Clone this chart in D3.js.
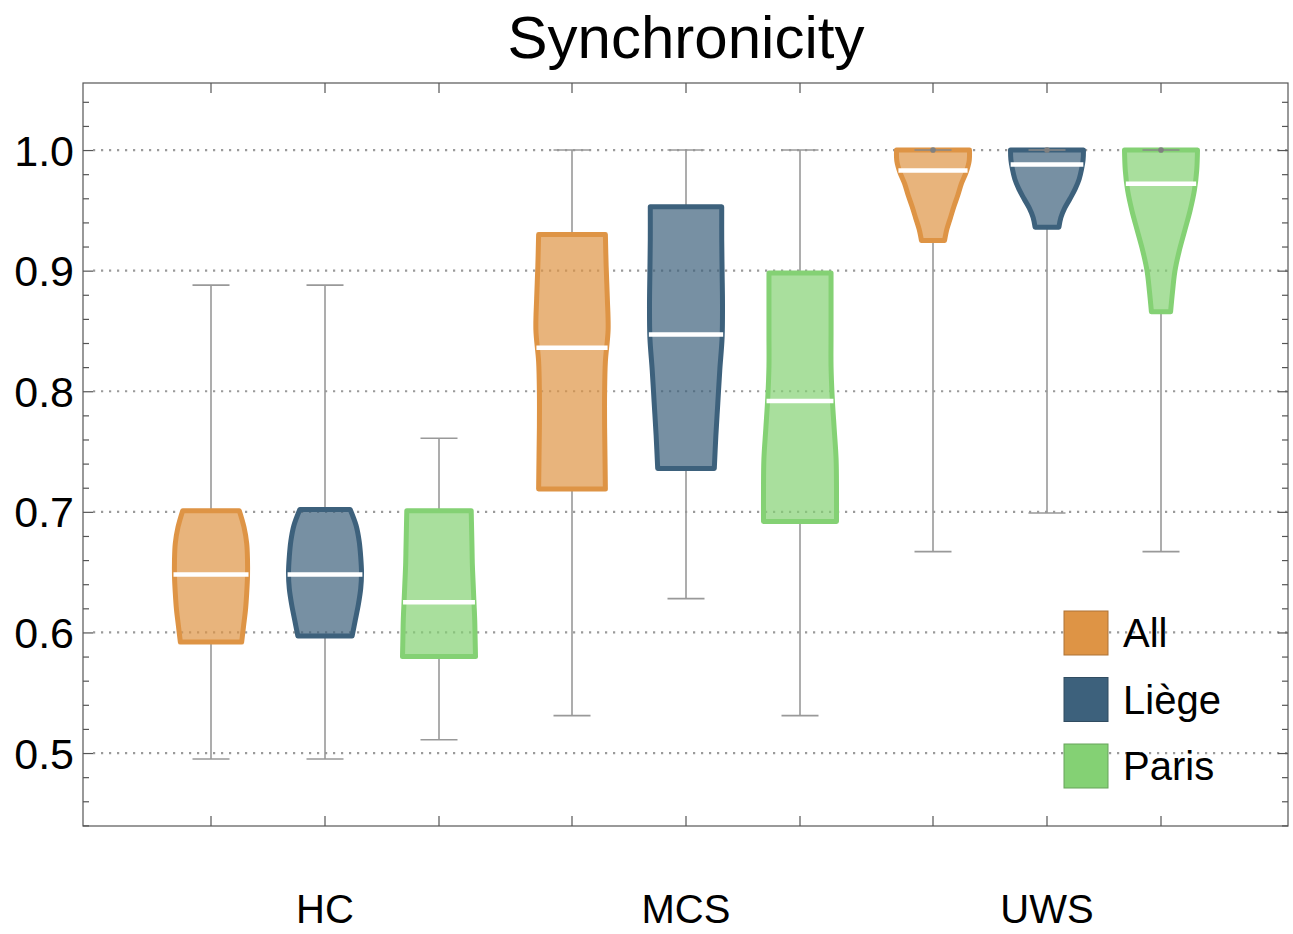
<!DOCTYPE html>
<html>
<head>
<meta charset="utf-8">
<script src="https://cdn.jsdelivr.net/npm/d3@7"></script>
<style>
body { margin: 0; background: #ffffff; }
svg { display: block; font-family: "Liberation Sans", Arial, sans-serif; }
</style>
</head>
<body>
<svg id="chart" width="1293" height="934"></svg>
<script>
var groups = ["HC", "MCS", "UWS"];
var series = ["All", "Liège", "Paris"];
var series_colors = ["#de9445", "#3d617c", "#84d174"];

// one row per group, one value per series
var whisker_lo = [[0.495, 0.495, 0.511], [0.531, 0.628, 0.531], [0.667, 0.699, 0.667]];
var quartile_1 = [[0.592, 0.597, 0.580], [0.719, 0.736, 0.692], [0.925, 0.936, 0.866]];
var medians    = [[0.648, 0.648, 0.625], [0.836, 0.847, 0.792], [0.983, 0.988, 0.972]];
var quartile_3 = [[0.701, 0.702, 0.701], [0.930, 0.953, 0.898], [1.000, 1.000, 1.000]];
var whisker_hi = [[0.888, 0.888, 0.761], [1.000, 1.000, 1.000], [1.000, 1.000, 1.000]];
var outliers   = [[[], [], []], [[], [], []], [[1.0], [1.0], [1.0]]];

// relative width of each box, from Q1 (first) up to Q3 (last)
var box_profiles = [
    [[0.85, 0.90, 0.95, 0.98, 1.00, 1.00, 0.98, 0.91, 0.79],
     [0.76, 0.84, 0.92, 0.98, 1.00, 0.98, 0.94, 0.86, 0.71],
     [1.00, 0.99, 0.98, 0.96, 0.94, 0.92, 0.91, 0.90, 0.89]],
    [[0.92, 0.91, 0.90, 0.90, 0.92, 0.99, 0.97, 0.94, 0.92],
     [0.79, 0.83, 0.88, 0.93, 0.99, 1.00, 0.99, 0.98, 0.98],
     [1.00, 1.00, 0.99, 0.94, 0.89, 0.86, 0.86, 0.86, 0.86]],
    [[0.36, 0.42, 0.51, 0.60, 0.70, 0.79, 0.91, 0.99, 1.00],
     [0.37, 0.42, 0.52, 0.66, 0.79, 0.89, 0.95, 0.99, 1.00],
     [0.31, 0.36, 0.42, 0.53, 0.67, 0.81, 0.92, 0.98, 1.00]]
];

var y_ticks = [0.5, 0.6, 0.7, 0.8, 0.9, 1.0];

var plot_left = 83, plot_right = 1288, plot_top = 83, plot_bottom = 826;
var box_width = 78;
var stroke_w = 5;

var svg = d3.select("#chart");

var y = d3.scaleLinear().domain([0.4395, 1.0556]).range([plot_bottom, plot_top]);
var x_group = d3.scalePoint().domain(groups).range([325, 1047]);
var x_series = d3.scalePoint().domain(series).range([-114, 114]);

function box_x(g, s)
{
    return x_group(groups[g]) + x_series(series[s]);
}

// title
svg.append("text")
    .attr("x", 686)
    .attr("y", 58)
    .attr("text-anchor", "middle")
    .style("font-size", "60px")
    .attr("fill", "#000")
    .text("Synchronicity");

// grid lines
svg.append("g").selectAll("line")
    .data(y_ticks)
    .enter().append("line")
    .attr("x1", plot_left + 10)
    .attr("x2", plot_right)
    .attr("y1", function(d) { return y(d); })
    .attr("y2", function(d) { return y(d); })
    .attr("stroke", "#9a9a9a")
    .attr("stroke-width", 2.2)
    .attr("stroke-dasharray", "2.2,5.8");

// frame
svg.append("rect")
    .attr("x", plot_left)
    .attr("y", plot_top)
    .attr("width", plot_right - plot_left)
    .attr("height", plot_bottom - plot_top)
    .attr("fill", "none")
    .attr("stroke", "#555")
    .attr("stroke-width", 1.2);

// y ticks left and right, major and minor
var minor_ticks = d3.range(0.44, 1.06, 0.02).filter(function(v)
{
    return Math.abs(Math.round(v * 10) / 10 - v) > 0.001 && v > y.domain()[0] && v < y.domain()[1];
});

var left_axis = d3.axisRight(y).tickValues(y_ticks).tickSize(10).tickFormat("");
var left_minor = d3.axisRight(y).tickValues(minor_ticks).tickSize(6).tickFormat("");
var right_axis = d3.axisLeft(y).tickValues(y_ticks).tickSize(10).tickFormat("");
var right_minor = d3.axisLeft(y).tickValues(minor_ticks).tickSize(6).tickFormat("");

[[left_axis, plot_left], [left_minor, plot_left], [right_axis, plot_right], [right_minor, plot_right]].forEach(function(a)
{
    var g = svg.append("g").attr("transform", "translate(" + a[1] + ",0)").call(a[0]);
    g.select(".domain").remove();
    g.selectAll("line").attr("stroke", "#555").attr("stroke-width", 1.2);
});

// y tick labels
svg.append("g").selectAll("text")
    .data(y_ticks)
    .enter().append("text")
    .attr("x", 74)
    .attr("y", function(d) { return y(d); })
    .attr("dy", "0.36em")
    .attr("text-anchor", "end")
    .style("font-size", "43px")
    .attr("fill", "#000")
    .text(function(d) { return d3.format(".1f")(d); });

// x ticks at every box, top and bottom
var box_positions = [];
for(var g = 0; g < groups.length; g++)
{
    for(var s = 0; s < series.length; s++)
    {
        box_positions.push(box_x(g, s));
    }
}
svg.append("g").selectAll("line")
    .data(box_positions)
    .enter().append("line")
    .attr("x1", function(d) { return d; })
    .attr("x2", function(d) { return d; })
    .attr("y1", plot_bottom)
    .attr("y2", plot_bottom - 10)
    .attr("stroke", "#555")
    .attr("stroke-width", 1.2);
svg.append("g").selectAll("line")
    .data(box_positions)
    .enter().append("line")
    .attr("x1", function(d) { return d; })
    .attr("x2", function(d) { return d; })
    .attr("y1", plot_top)
    .attr("y2", plot_top + 10)
    .attr("stroke", "#555")
    .attr("stroke-width", 1.2);

// group labels
svg.append("g").selectAll("text")
    .data(groups)
    .enter().append("text")
    .attr("x", function(d) { return x_group(d); })
    .attr("y", 923)
    .attr("text-anchor", "middle")
    .style("font-size", "40px")
    .attr("fill", "#000")
    .text(function(d) { return d; });

function profile_at(profile, t)
{
    var pos = t * (profile.length - 1);
    var i = Math.max(0, Math.min(profile.length - 2, Math.floor(pos)));
    var f = pos - i;
    return profile[i] * (1 - f) + profile[i + 1] * f;
}

var boxes = svg.append("g");

for(var g = 0; g < groups.length; g++)
{
    for(var s = 0; s < series.length; s++)
    {
        var cx = box_x(g, s);
        var lo = quartile_1[g][s];
        var hi = quartile_3[g][s];
        var profile = box_profiles[g][s];
        var color = series_colors[s];

        // whiskers
        var wg = boxes.append("g").attr("stroke", "#999").attr("stroke-width", 1.6);
        wg.append("line").attr("x1", cx).attr("x2", cx).attr("y1", y(hi)).attr("y2", y(whisker_hi[g][s]));
        wg.append("line").attr("x1", cx).attr("x2", cx).attr("y1", y(lo)).attr("y2", y(whisker_lo[g][s]));
        wg.append("line").attr("x1", cx - 18.5).attr("x2", cx + 18.5).attr("y1", y(whisker_hi[g][s])).attr("y2", y(whisker_hi[g][s]));
        wg.append("line").attr("x1", cx - 18.5).attr("x2", cx + 18.5).attr("y1", y(whisker_lo[g][s])).attr("y2", y(whisker_lo[g][s]));

        // box shape
        var pts = profile.map(function(p, i)
        {
            return { v: lo + (hi - lo) * i / (profile.length - 1), w: (box_width * p - stroke_w) / 2 };
        });
        var area = d3.area()
            .curve(d3.curveCatmullRom.alpha(0.5))
            .y(function(d) { return y(d.v); })
            .x0(function(d) { return cx - d.w; })
            .x1(function(d) { return cx + d.w; });

        boxes.append("path")
            .attr("d", area(pts))
            .attr("fill", color)
            .attr("fill-opacity", 0.7)
            .attr("stroke", color)
            .attr("stroke-width", stroke_w)
            .attr("stroke-linejoin", "round");

        // median
        var mt = (medians[g][s] - lo) / (hi - lo);
        var mw = (box_width * profile_at(profile, mt)) / 2 - 1.5;
        boxes.append("line")
            .attr("x1", cx - mw)
            .attr("x2", cx + mw)
            .attr("y1", y(medians[g][s]))
            .attr("y2", y(medians[g][s]))
            .attr("stroke", "#ffffff")
            .attr("stroke-width", 4.5);

        outliers[g][s].forEach(function(v)
        {
            boxes.append("line").attr("x1", cx - 18.5).attr("x2", cx + 18.5).attr("y1", y(v)).attr("y2", y(v))
                .attr("stroke", "#888").attr("stroke-width", 1.6);
            boxes.append("circle").attr("cx", cx).attr("cy", y(v)).attr("r", 2.8).attr("fill", "#808080");
        });
    }
}

// legend
var legend = svg.append("g").attr("transform", "translate(1064,611)");
var legend_items = legend.selectAll("g")
    .data(series)
    .enter().append("g")
    .attr("transform", function(d, i) { return "translate(0," + (i * 66.5) + ")"; });
legend_items.append("rect")
    .attr("width", 44)
    .attr("height", 44)
    .attr("fill", function(d, i) { return series_colors[i]; })
    .attr("stroke", function(d, i) { return d3.color(series_colors[i]).darker(0.7); })
    .attr("stroke-width", 1);
legend_items.append("text")
    .attr("x", 59)
    .attr("y", 22)
    .attr("dy", "0.36em")
    .style("font-size", "40px")
    .attr("fill", "#000")
    .text(function(d) { return d; });
</script>
</body>
</html>
